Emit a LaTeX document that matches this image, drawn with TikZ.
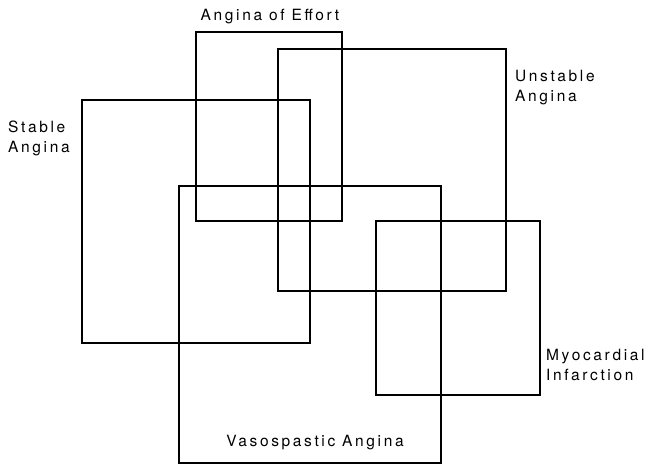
\documentclass[tikz,border=0pt]{standalone}
\usepackage{fontspec}
\usepackage{tikz}
\newfontfamily\labelfont[LetterSpace=17]{TeX Gyre Heros}

\tikzset{
  group/.style={draw, line width=1.2pt},
  label/.style={font=\labelfont\fontsize{15.5}{20}\selectfont, inner sep=0pt, align=left}
}

\begin{document}
\begin{tikzpicture}[x=1pt,y=-1pt]
    \useasboundingbox (0,0) rectangle (647,465);

    % Overlapping groups
    \draw[group] (82,100) rectangle (310,343);   % stable
    \draw[group] (196,32) rectangle (342,221);   % effort
    \draw[group] (278,49) rectangle (506,291);   % unstable
    \draw[group] (179,186) rectangle (441,463);  % vasospastic
    \draw[group] (376,221) rectangle (540,395);  % infarction

    % Labels (base of a two-line label is its second line)
    \node[label,anchor=base] (effort) at (270,21) {Angina of Effort};
    \node[label,anchor=base west] (stable) at (8,153) {Stable\\Angina};
    \node[label,anchor=base west] (unstable) at (515,102) {Unstable\\Angina};
    \node[label,anchor=base west] (infarction) at (546,380) {Myocardial\\Infarction};
    \node[label,anchor=base] (vasospastic) at (315,446) {Vasospastic Angina};
\end{tikzpicture}
\end{document}
